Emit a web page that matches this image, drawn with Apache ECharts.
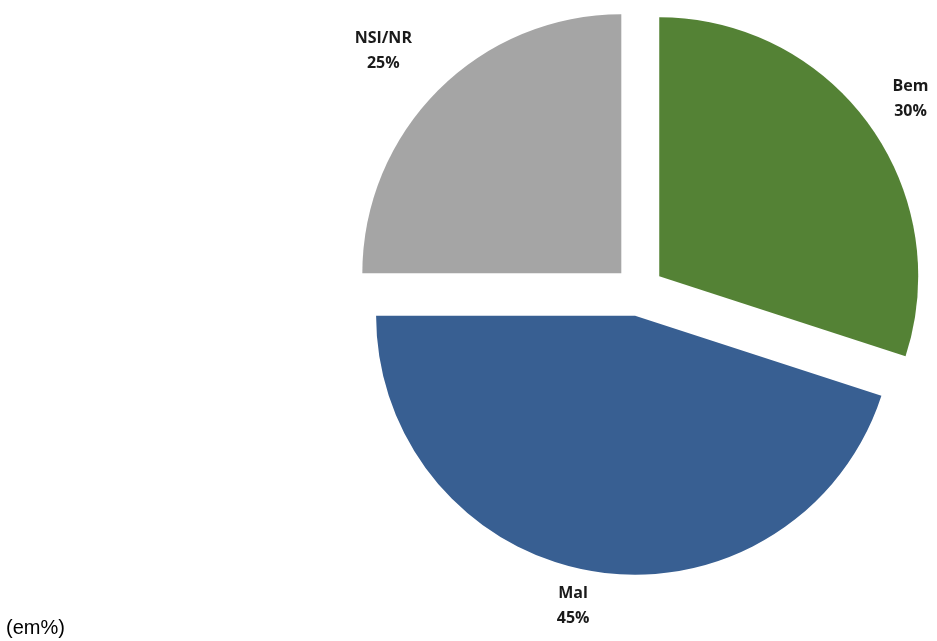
<!DOCTYPE html>
<html><head><meta charset="utf-8">
<script src="https://cdn.jsdelivr.net/npm/echarts@6/dist/echarts.min.js"></script>
<style>html,body{margin:0;padding:0;background:#fff}#c{width:937px;height:641px}</style>
</head><body><div id="c"></div>
<script>
const categories = ['Bem', 'Mal', 'NSI/NR'];
const values = [30, 45, 25];
const colors = ['#548235', '#385F92', '#A5A5A5'];
const labelLengths = [43, 35, 55];
const labelLengths2 = [7, 16, 16];

const chart = echarts.init(document.getElementById('c'));
chart.setOption({
  animation: false,
  title: {
    text: '(em%)', left: 1, bottom: -2,
    textStyle: { fontFamily: 'Liberation Sans', fontWeight: 'normal', fontSize: 20, color: '#000' }
  },
  series: [{
    type: 'pie',
    center: [639, 291],
    radius: 259,
    startAngle: 90,
    clockwise: true,
    selectedMode: 'multiple',
    selectedOffset: 25,
    avoidLabelOverlap: false,
    silent: true,
    label: {
      show: true, position: 'outside',
      formatter: '{b}\n{d}%',
      fontFamily: 'Open Sans', fontWeight: 'bold', fontSize: 16, lineHeight: 25,
      color: '#1a1a1a', distanceToLabelLine: 0
    },
    labelLine: { show: false },
    labelLayout: { align: 'center', verticalAlign: 'middle' },
    data: categories.map((c, i) => ({
      name: c, value: values[i], selected: true,
      itemStyle: { color: colors[i] },
      labelLine: { show: false, length: labelLengths[i], length2: labelLengths2[i] }
    }))
  }]
});
</script></body></html>
